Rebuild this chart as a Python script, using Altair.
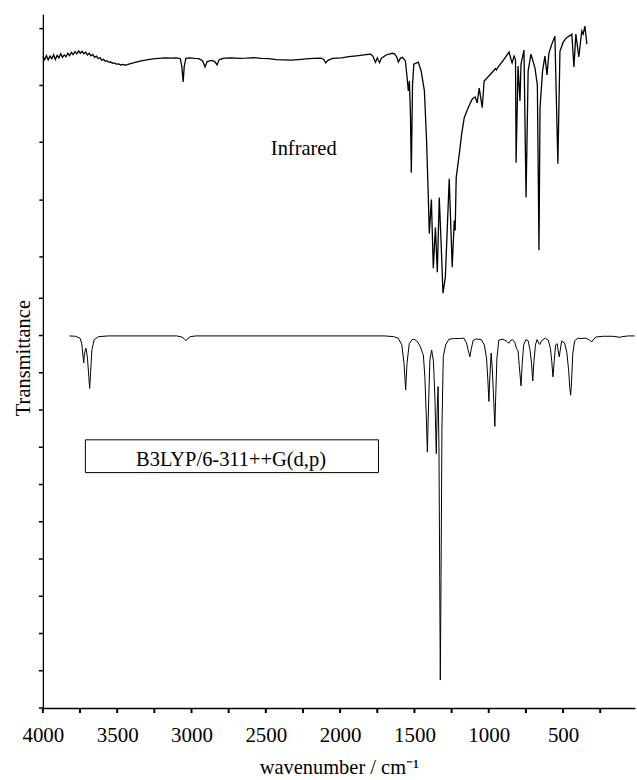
import altair as alt
import pandas as pd

# ---------------- data ----------------
# Experimental infrared spectrum (top panel)
ir_wn = [4000, 3988, 3976, 3964, 3952, 3940, 3928, 3916, 3904, 3892, 3880, 3868, 3856, 3844,
         3832, 3820, 3808, 3796, 3784, 3772, 3760, 3748, 3736, 3724, 3712, 3700, 3688, 3676,
         3664, 3652, 3640, 3628, 3616, 3604, 3592, 3580, 3568, 3556, 3544, 3532, 3520, 3505,
         3490, 3475, 3460, 3445, 3432, 3410, 3385, 3360, 3330, 3300, 3260, 3220, 3180, 3140,
         3100, 3075, 3065, 3056, 3049, 3038, 3010, 2980, 2950, 2925, 2909, 2895, 2865, 2843,
         2828, 2813, 2780, 2730, 2680, 2630, 2580, 2530, 2480, 2430, 2380, 2330, 2280, 2230,
         2180, 2130, 2110, 2097, 2082, 2050, 1990, 1940, 1890, 1840, 1810, 1795, 1780, 1762,
         1750, 1735, 1722, 1690, 1650, 1634, 1620, 1608, 1594, 1581, 1561, 1552, 1541, 1534,
         1527, 1521, 1513, 1504, 1474, 1455, 1433, 1418, 1406, 1400, 1386, 1373, 1359, 1346,
         1333, 1320, 1308, 1292, 1266, 1246, 1232, 1226, 1219, 1198, 1182, 1165, 1135, 1111,
         1091, 1078, 1064, 1044, 1031, 985, 955, 948, 940, 905, 863, 850, 843, 830,
         820, 816, 803, 790, 783, 763, 749, 735, 716, 700, 689, 673, 662, 655,
         638, 622, 608, 595, 575, 555, 535, 521, 500, 480, 441, 427, 414, 394,
         374, 365, 353, 340]
ir_t = [90.1, 89.0, 90.4, 88.9, 90.2, 89.3, 90.7, 89.0, 90.5, 89.6, 91.0, 89.8, 90.6, 90.0,
        91.2, 90.4, 91.5, 90.7, 91.8, 91.0, 92.0, 91.2, 91.9, 91.0, 91.6, 90.6, 91.2, 90.3,
        90.8, 89.8, 90.2, 89.3, 89.7, 88.8, 89.1, 88.4, 88.6, 88.0, 88.2, 87.7, 87.8, 87.4,
        87.5, 87.1, 87.3, 87.0, 87.2, 87.6, 87.9, 88.3, 88.6, 88.9, 89.2, 89.4, 89.6, 89.5,
        89.6, 89.3, 86.5, 81.1, 86.5, 89.4, 89.6, 89.4, 89.3, 88.5, 86.4, 88.3, 88.7, 88.3,
        87.1, 89.0, 89.5, 89.6, 89.4, 89.5, 89.7, 89.4, 89.3, 89.0, 88.9, 88.8, 89.0, 89.2,
        89.4, 89.5, 89.0, 87.8, 88.7, 89.4, 89.6, 90.0, 90.3, 90.6, 90.8, 90.9, 90.2, 88.0,
        89.6, 87.9, 89.5, 90.6, 91.2, 91.0, 90.0, 88.1, 89.5, 89.8, 88.5, 84.0, 78.0, 81.5,
        70.0, 49.3, 80.0, 87.4, 88.1, 85.0, 78.0, 60.0, 39.6, 28.0, 39.9, 15.8, 30.1, 14.4,
        40.6, 24.0, 7.1, 12.7, 47.2, 16.2, 32.6, 29.1, 47.6, 56.0, 63.0, 68.6, 72.5, 75.2,
        75.9, 73.8, 79.0, 72.1, 81.5, 84.0, 85.8, 85.3, 86.2, 88.5, 91.6, 89.0, 87.8, 90.2,
        89.0, 52.8, 86.7, 74.5, 87.4, 92.3, 40.6, 85.0, 90.9, 88.0, 86.0, 80.0, 22.1, 72.1,
        85.0, 90.2, 83.6, 91.3, 94.5, 97.2, 52.5, 91.9, 95.0, 96.5, 97.9, 86.4, 97.9, 89.9,
        99.0, 97.9, 100.7, 94.4]

# Calculated B3LYP/6-311++G(d,p) spectrum (bottom panel)
calc_wn = [3821, 3780, 3750, 3738, 3730, 3725, 3720, 3710, 3700, 3691, 3685, 3679, 3670, 3655,
           3625, 3560, 3100, 3065, 3046, 3036, 3028, 3008, 2970, 1700, 1640, 1610, 1585, 1570,
           1559, 1550, 1535, 1515, 1502, 1480, 1460, 1445, 1440, 1430, 1420, 1413, 1406, 1396,
           1384, 1372, 1362, 1353, 1347, 1341, 1335, 1330, 1326, 1321, 1315, 1306, 1290, 1268,
           1230, 1190, 1167, 1150, 1138, 1127, 1118, 1105, 1085, 1050, 1030, 1015, 1006, 999,
           993, 984, 976, 966, 959, 953, 945, 932, 905, 880, 865, 855, 840, 825,
           813, 803, 795, 783, 775, 765, 750, 735, 722, 712, 704, 696, 686, 675,
           665, 657, 645, 620, 600, 585, 576, 568, 560, 550, 540, 533, 526, 519,
           510, 490, 475, 462, 455, 449, 443, 435, 422, 400, 380, 350, 325, 315,
           306, 298, 280, 230, 170, 130, 117, 105, 60, 18]
calc_t = [99.9, 99.8, 99.3, 97.8, 94.5, 92.7, 95.2, 96.6, 94.0, 89.0, 85.8, 90.0, 96.2, 98.9,
          99.7, 99.9, 99.9, 99.6, 99.0, 98.6, 99.1, 99.7, 99.9, 99.9, 99.7, 99.3, 97.5, 92.5,
          85.4, 92.5, 97.8, 98.9, 99.0, 98.4, 97.0, 95.2, 94.8, 89.0, 78.0, 68.7, 80.0, 93.5,
          96.1, 93.0, 83.0, 68.3, 80.0, 86.3, 70.0, 35.0, 7.5, 35.0, 75.0, 94.3, 97.5, 99.0,
          99.2, 99.2, 99.3, 98.0, 96.0, 94.3, 96.3, 98.7, 99.1, 98.9, 97.5, 94.0, 88.0, 82.3,
          88.5, 95.3, 91.0, 82.0, 75.6, 84.0, 94.0, 98.8, 99.0, 98.5, 97.9, 98.6, 98.9, 98.2,
          96.5, 95.9, 92.0, 86.5, 92.5, 97.5, 98.9, 98.6, 96.0, 92.5, 87.8, 93.0, 97.5, 98.9,
          98.0, 97.6, 98.6, 99.3, 98.8, 96.5, 93.0, 88.9, 93.0, 97.5, 97.8, 96.0, 94.3, 96.0,
          98.5, 98.0, 95.5, 90.5, 86.0, 84.0, 87.5, 95.0, 98.6, 99.3, 99.2, 99.3, 98.9, 98.5,
          98.3, 98.8, 99.6, 99.8, 99.8, 99.6, 99.5, 99.7, 99.9, 99.9]

x_major_ticks = [4000, 3500, 3000, 2500, 2000, 1500, 1000, 500]
x_all_ticks = [4000, 3750, 3500, 3250, 3000, 2750, 2500, 2250, 2000, 1750,
               1500, 1250, 1000, 750, 500, 250]
top_y_ticks = [20, 40, 60, 80, 100]
bottom_y_ticks = [0, 10, 20, 30, 40, 50, 60, 70, 80, 90, 100, 110]

label_ir = ["Infrared"]
label_calc = ["B3LYP/6-311++G(d,p)"]

# ---------------- chart ----------------
FONT = "Liberation Serif"
W = 594
H_TOP = 285
H_BOT = 411
TW = 2     # x tick width
DW = 1.3   # axis line width
TL = 4     # tick length

ir_df = pd.DataFrame({"wn": ir_wn, "t": ir_t})
calc_df = pd.DataFrame({"wn": calc_wn, "t": calc_t})

xscale = alt.Scale(domain=[16, 4000], reverse=True, nice=False, zero=False)
y_top_scale = alt.Scale(domain=[5.3, 104.9], nice=False, zero=False)
y_bot_scale = alt.Scale(domain=[0, 110], nice=False, zero=False)

# --- top panel: measured infrared spectrum ---
top_line = alt.Chart(ir_df).mark_line(color="black", strokeWidth=1.3).encode(
    x=alt.X("wn:Q", scale=xscale, axis=None),
    y=alt.Y("t:Q", scale=y_top_scale,
            axis=alt.Axis(values=top_y_ticks, labels=False, ticks=True, tickSize=TL,
                          tickWidth=1.5, domainWidth=DW,
                          tickColor="black", domainColor="black", grid=False,
                          title="Transmittance", titleX=-13, titleY=344.5, titleAngle=270,
                          titleAlign="center", titleBaseline="alphabetic", titleFont=FONT,
                          titleFontSize=20.5, titleFontWeight="normal", titleColor="black")),
)
top_text = alt.Chart(pd.DataFrame({"label": label_ir})).mark_text(
    font=FONT, fontSize=20.5, color="black", align="center", baseline="alphabetic"
).encode(x=alt.datum(2245), y=alt.datum(55.5), text="label:N")
top = alt.layer(top_line, top_text).properties(width=W, height=H_TOP)

# --- bottom panel: calculated spectrum ---
bot_line = alt.Chart(calc_df).mark_line(color="black", strokeWidth=1).encode(
    x=alt.X("wn:Q", scale=xscale,
            axis=alt.Axis(values=x_major_ticks, format="d",
                          tickSize=TL, tickOpacity=0, domainWidth=DW,
                          domainColor="black", grid=False,
                          labelFont=FONT, labelFontSize=21, labelColor="black",
                          labelBaseline="alphabetic", labelPadding=29.7, labelFlush=False,
                          labelOverlap=False,
                          title="wavenumber / cm⁻¹", titleFont=FONT, titleFontSize=20.5,
                          titleFontWeight="normal", titleColor="black",
                          titleBaseline="alphabetic", titleY=66)),
    y=alt.Y("t:Q", scale=y_bot_scale,
            axis=alt.Axis(values=bottom_y_ticks, labels=False, ticks=True, tickSize=TL,
                          tickOpacity=0, domainWidth=DW,
                          domainColor="black", grid=False, title=None)),
)
# tick marks of the bottom panel, placed through the panel's own scales
x_tick_rules = alt.Chart(pd.DataFrame({"wn": x_all_ticks})).mark_rule(
    color="black", strokeWidth=TW
).encode(x=alt.X("wn:Q", scale=xscale), y=alt.value(H_BOT), y2=alt.value(H_BOT + TL + 1))
y_tick_rules = alt.Chart(pd.DataFrame({"t": bottom_y_ticks})).mark_rule(
    color="black", strokeWidth=1.5
).encode(y=alt.Y("t:Q", scale=y_bot_scale), x=alt.value(-TL), x2=alt.value(0))

box = alt.Chart(pd.DataFrame({"label": label_calc})).mark_rect(
    fillOpacity=0, stroke="black", strokeWidth=1
).encode(x=alt.datum(3714), x2=alt.datum(1742), y=alt.datum(72.0), y2=alt.datum(63.2))
box_text = alt.Chart(pd.DataFrame({"label": label_calc})).mark_text(
    font=FONT, fontSize=20.5, color="black", align="center", baseline="alphabetic"
).encode(x=alt.datum(2734), y=alt.datum(64.9), text="label:N")
bottom = alt.layer(bot_line, x_tick_rules, y_tick_rules, box, box_text).properties(
    width=W, height=H_BOT)

chart = alt.vconcat(top, bottom, spacing=0, bounds="flush").properties(
    padding={"left": 14, "top": 13, "right": 0, "bottom": 0}, background="white"
).configure_view(strokeWidth=0)

chart.save("out.html", embed_options={"renderer": "svg", "actions": False})
